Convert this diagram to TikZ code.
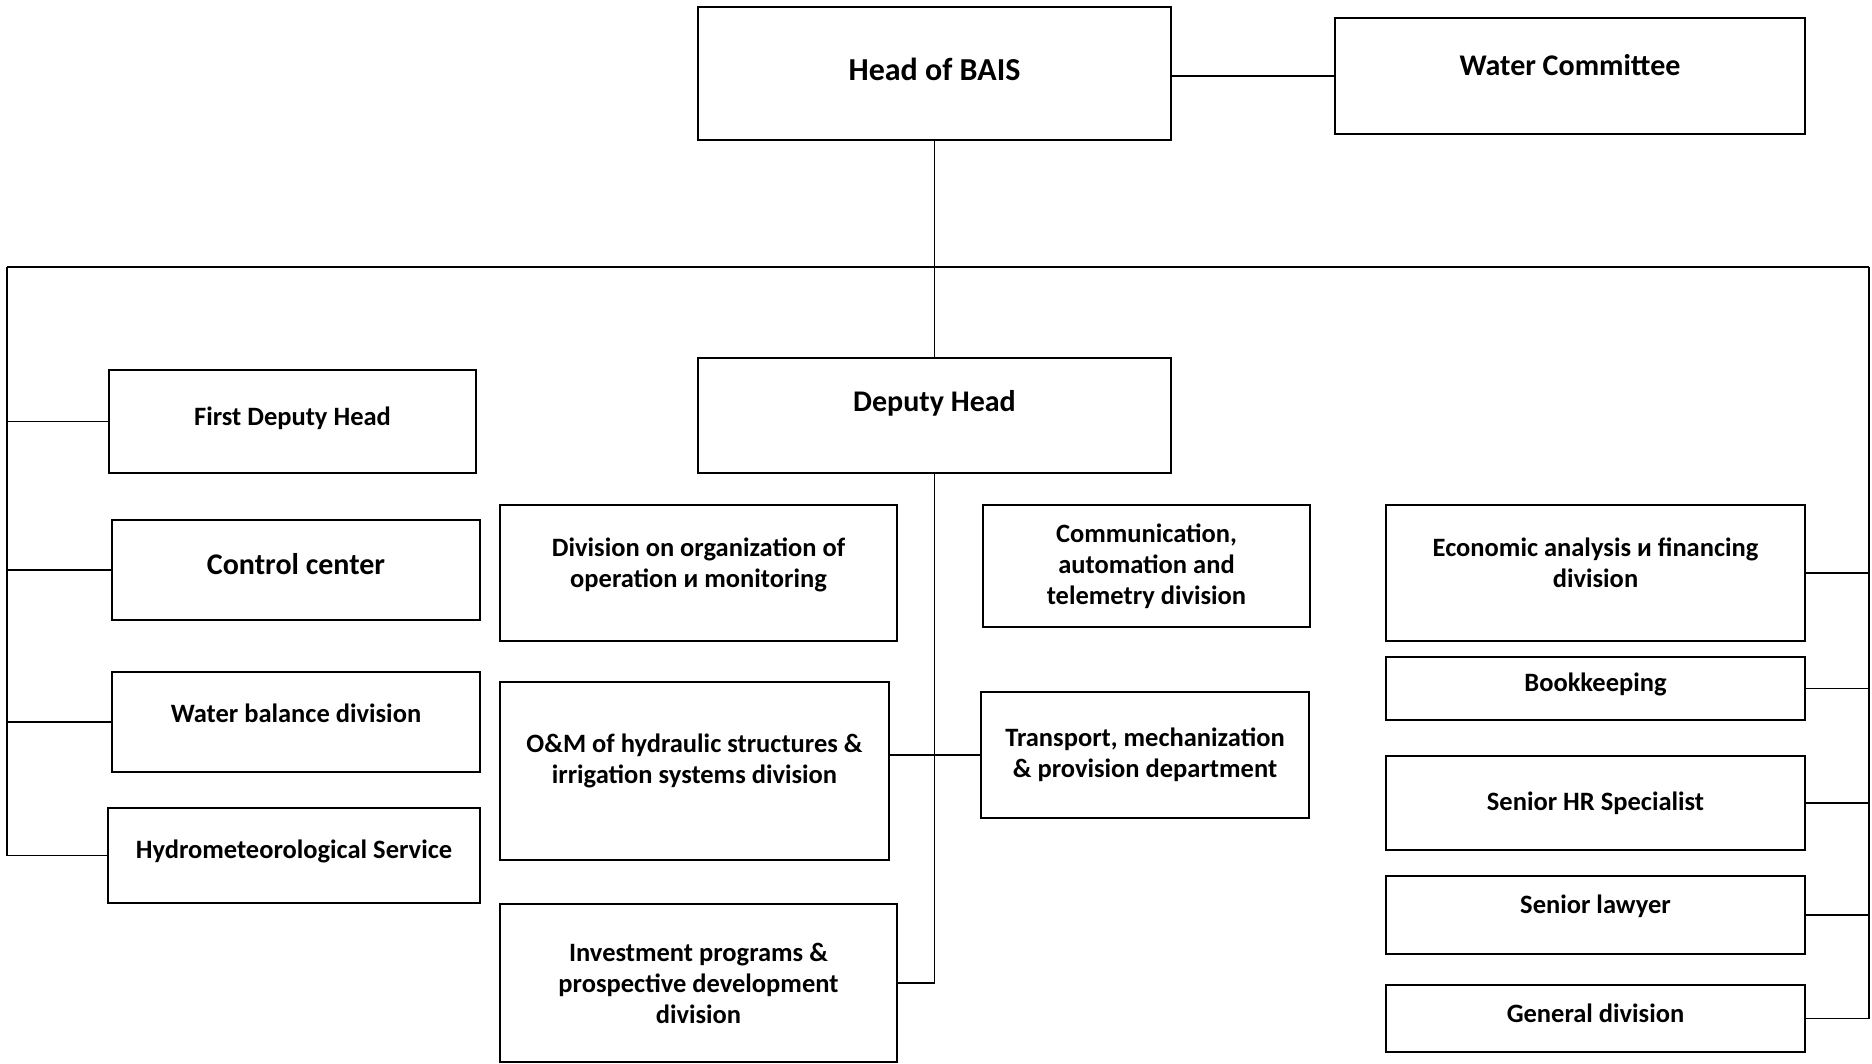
\documentclass[tikz,border=0pt]{standalone}
\usepackage{fontspec}
\setmainfont{Carlito}

\begin{document}
\begin{tikzpicture}[x=1pt,y=-1pt]
% STYLES
\tikzset{%
    unit/.style={%
        rectangle, draw, line width=2pt, align=center, inner sep=4pt,
        font=\fontsize{26.5}{31}\selectfont\bfseries
    },
    big/.style={font=\fontsize{30}{36}\selectfont\bfseries},
    size/.style 2 args={minimum width=#1pt, minimum height=#2pt},
    lift/.style={text depth=#1pt},
    wire/.style={line width=1.5pt}
}
\useasboundingbox (0,0) rectangle (1872,1064);
% Draw the head and deputy
\node [unit, big, font=\fontsize{32}{38}\selectfont\bfseries, size={473}{133}, lift=8] (head) at (934.5,73.5) {Head of BAIS};
\node [unit, big, size={470}{116}, lift=22] (water) at (1570,76) {Water Committee};
\node [unit, big, size={473}{115}, lift=29] (deputy) at (934.5,415.5) {Deputy Head};
% Draw left column
\node [unit, size={367}{103}, lift=10] (first) at (292.5,421.5) {First Deputy Head};
\node [unit, big, size={368}{100}, lift=12] (control) at (296,570) {Control center};
\node [unit, size={368}{100}, lift=18] (balance) at (296,722) {Water balance division};
\node [unit, size={372}{95}, lift=12] (hydro) at (294,855.5) {Hydrometeorological Service};
% Draw middle units
\node [unit, size={397}{136}, lift=20] (monitor) at (698.5,573) {Division on organization of\\operation и monitoring};
\node [unit, size={389}{178}, lift=24] (hydraulic) at (694.5,771) {O\&M of hydraulic structures \&\\irrigation systems division};
\node [unit, size={397}{158}] (invest) at (698.5,983) {Investment programs \&\\prospective development\\division};
\node [unit, size={327}{122}] (telemetry) at (1146.5,566) {Communication,\\automation and\\telemetry division};
\node [unit, size={328}{126}] (transport) at (1145,755) {Transport, mechanization\\\& provision department};
% Draw right column
\node [unit, size={419}{136}, lift=20] (finance) at (1595.5,573) {Economic analysis и financing\\division};
\node [unit, size={419}{63}, lift=12] (books) at (1595.5,688.5) {Bookkeeping};
\node [unit, size={419}{94}] (hr) at (1595.5,803) {Senior HR Specialist};
\node [unit, size={419}{78}, lift=21] (lawyer) at (1595.5,915) {Senior lawyer};
\node [unit, size={419}{67}, lift=10] (general) at (1595.5,1018.5) {General division};
% Draw the links
\coordinate (busL) at (7,267);
\coordinate (busR) at (1869,267);
\draw [wire] (busL) -- (busR);
\draw [wire] (head) -- (deputy);
\draw [wire] (water.west) -- (water.west -| head.east);
\draw [wire] (busL) |- (hydro.west);
\foreach \n in {first,control,balance}
    \draw [wire] (\n.west) -- (\n.west -| busL);
\draw [wire] (busR) |- (general.east);
\foreach \n in {finance,books,hr,lawyer}
    \draw [wire] (\n.east) -- (\n.east -| busR);
\draw [wire] (deputy) |- (invest.east);
\draw [wire] (transport.west) -- (transport.west -| hydraulic.east);
\end{tikzpicture}
\end{document}
